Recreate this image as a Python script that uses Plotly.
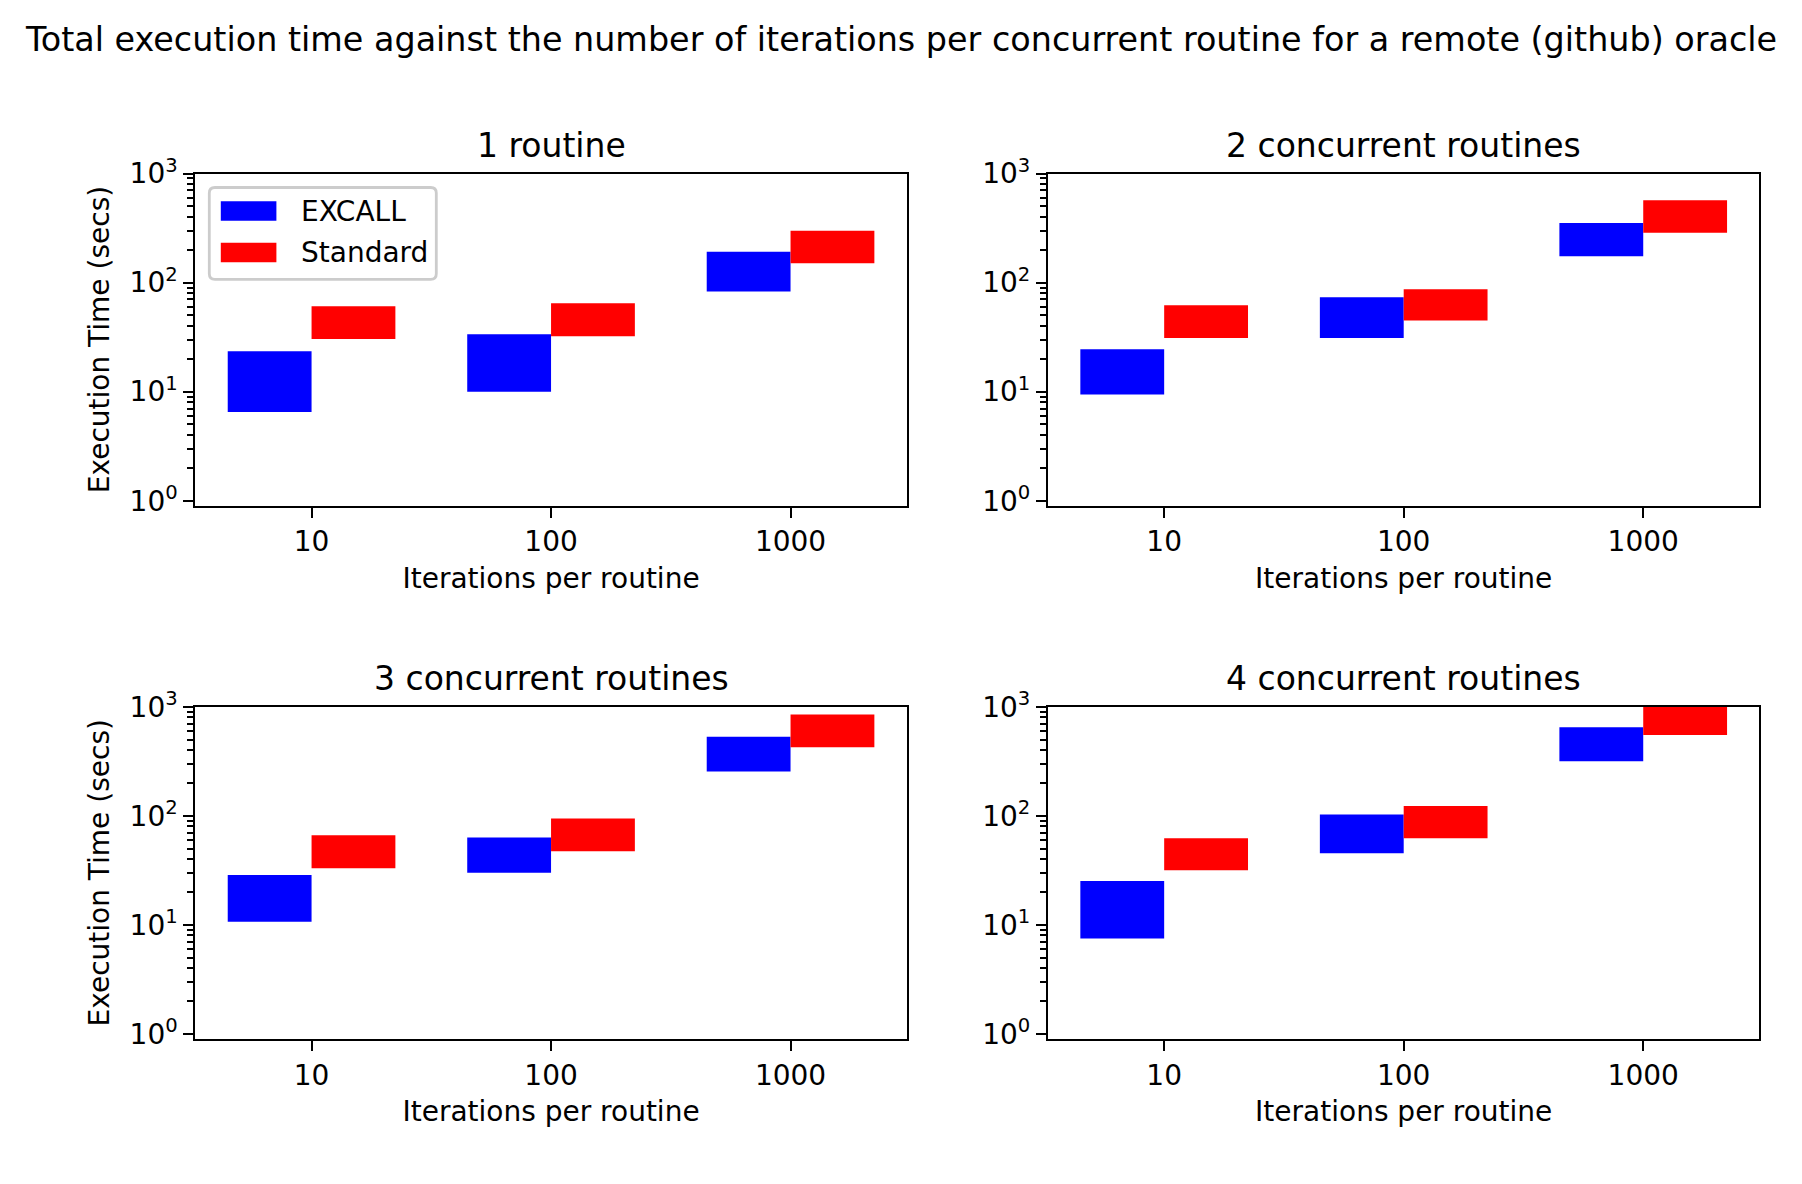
import plotly.graph_objects as go

# ---------------- data ----------------
iterations = ["10", "100", "1000"]
panel_titles = ["1 routine", "2 concurrent routines",
                "3 concurrent routines", "4 concurrent routines"]
series_names = ["EXCALL", "Standard"]
y_tick_values = [1, 10, 100, 1000]
y_tick_labels = ["10<sup>0</sup>", "10<sup>1</sup>", "10<sup>2</sup>", "10<sup>3</sup>"]

# execution time ranges (secs), one list per panel: [10, 100, 1000] iterations
excall_low = [[6.5, 10.0, 83], [9.4, 31.1, 174], [10.7, 30.0, 255], [7.5, 45.4, 316]]
excall_high = [[23.5, 33.6, 192], [24.5, 73.2, 351], [28.6, 63.4, 529], [25.2, 102.8, 647]]
standard_low = [[30.3, 32.2, 150], [31.1, 44.9, 287], [33.1, 47.3, 425], [31.7, 62.2, 551]]
standard_high = [[60.6, 64.5, 299], [61.8, 87.0, 570], [66.2, 94.6, 850], [62.1, 123.0, 1100]]

# ---------------- styling ----------------
W, H = 1802, 1184
OFF = 8.0       # page body margin compensation
FONT = "DejaVu Sans"
FS = 28
FS_T = 33
FS_SUP = 33.4
LW = 2.2
BAR_W = 0.35
COLORS = ["blue", "red"]

col_px = [(195.4, 906.7), (1048.0, 1759.4)]
row_px = [(173.5, 505.6), (706.7, 1038.9)]


def px_x(p):
    return (p - OFF) / W


def px_y(p):
    return 1 - (p - OFF) / H


fig = go.Figure()

lows = [excall_low, standard_low]
highs = [excall_high, standard_high]
offsets = [-BAR_W, 0.0]

for i in range(4):
    sfx = "" if i == 0 else str(i + 1)
    for s in range(2):
        lo = lows[s][i]
        hi = highs[s][i]
        fig.add_trace(go.Bar(
            x=iterations,
            y=[h - l for h, l in zip(hi, lo)],
            base=lo,
            width=BAR_W,
            offset=offsets[s],
            marker=dict(color=COLORS[s], line=dict(width=0)),
            name=series_names[s],
            showlegend=False,
            xaxis="x" + sfx,
            yaxis="y" + sfx,
        ))

minor_vals = [m * 10 ** k for k in range(3) for m in range(2, 10)]

layout = dict(
    width=W, height=H,
    margin=dict(l=0, r=0, t=0, b=0, autoexpand=False),
    paper_bgcolor="white", plot_bgcolor="white",
    barmode="overlay",
    font=dict(family=FONT, size=FS, color="black"),
    showlegend=False,
)

annotations = []
for i in range(4):
    r, c = divmod(i, 2)
    sfx = "" if i == 0 else str(i + 1)
    x0, x1 = col_px[c]
    y0, y1 = row_px[r]
    layout["xaxis" + sfx] = dict(
        domain=[px_x(x0), px_x(x1)],
        anchor="y" + sfx,
        type="category",
        range=[-0.485, 2.485],
        ticks="outside", ticklen=10, tickwidth=LW, tickcolor="black",
        ticklabelstandoff=0,
        showline=True, linewidth=LW, linecolor="black", mirror=True,
        showgrid=False, zeroline=False,
        tickfont=dict(size=FS),
        title=dict(text="Iterations per routine", font=dict(size=FS), standoff=11),
        automargin=False,
        fixedrange=True,
    )
    layout["yaxis" + sfx] = dict(
        domain=[px_y(y1), px_y(y0)],
        anchor="x" + sfx,
        type="log",
        range=[-0.045, 3],
        tickmode="array", tickvals=y_tick_values, ticktext=y_tick_labels,
        ticks="outside", ticklen=10, tickwidth=LW, tickcolor="black",
        ticklabelstandoff=0,
        minor=dict(tickmode="array", tickvals=minor_vals, ticks="outside",
                   ticklen=6, tickwidth=1.7, tickcolor="black", showgrid=False),
        showline=True, linewidth=LW, linecolor="black", mirror=True,
        showgrid=False, zeroline=False,
        tickfont=dict(size=FS),
        title=dict(text="Execution Time (secs)" if c == 0 else None,
                   font=dict(size=FS), standoff=12),
        automargin=False,
        fixedrange=True,
    )
    # subplot title
    annotations.append(dict(
        text=panel_titles[i], xref="paper", yref="paper",
        x=px_x((x0 + x1) / 2), y=px_y(y0 - 28.4),
        xanchor="center", yanchor="middle", showarrow=False,
        font=dict(size=FS_T),
    ))

# figure title
annotations.append(dict(
    text="Total execution time against the number of iterations per concurrent routine for a remote (github) oracle",
    xref="paper", yref="paper", x=px_x(901), y=px_y(40),
    xanchor="center", yanchor="middle", showarrow=False,
    font=dict(size=FS_SUP),
))

# legend (manual, matplotlib style) in panel 1
lx0, lx1, ly0, ly1 = 209.3, 436.3, 187.5, 279.3
rad = 5.6


def rounded_rect(x0, y0, x1, y1, r):
    X = px_x
    Y = px_y
    return (f"M {X(x0 + r)} {Y(y0)} L {X(x1 - r)} {Y(y0)} Q {X(x1)} {Y(y0)} {X(x1)} {Y(y0 + r)} "
            f"L {X(x1)} {Y(y1 - r)} Q {X(x1)} {Y(y1)} {X(x1 - r)} {Y(y1)} "
            f"L {X(x0 + r)} {Y(y1)} Q {X(x0)} {Y(y1)} {X(x0)} {Y(y1 - r)} "
            f"L {X(x0)} {Y(y0 + r)} Q {X(x0)} {Y(y0)} {X(x0 + r)} {Y(y0)} Z")


shapes = [dict(type="path", xref="paper", yref="paper",
               path=rounded_rect(lx0, ly0, lx1, ly1, rad),
               fillcolor="rgba(255,255,255,0.8)",
               line=dict(color="#cccccc", width=2.8), layer="above")]
row_centers = [211.0, 252.5]
for s in range(2):
    cy = row_centers[s]
    shapes.append(dict(type="rect", xref="paper", yref="paper",
                       x0=px_x(220.8), x1=px_x(276.4),
                       y0=px_y(cy - 9.7), y1=px_y(cy + 9.7),
                       fillcolor=COLORS[s], line=dict(width=0), layer="above"))
    annotations.append(dict(
        text=series_names[s], xref="paper", yref="paper",
        x=px_x(298.5), y=px_y(cy), xanchor="left", yanchor="middle",
        showarrow=False, font=dict(size=FS),
    ))

layout["annotations"] = annotations
layout["shapes"] = shapes
fig.update_layout(**layout)

fig.write_html("out.html")
